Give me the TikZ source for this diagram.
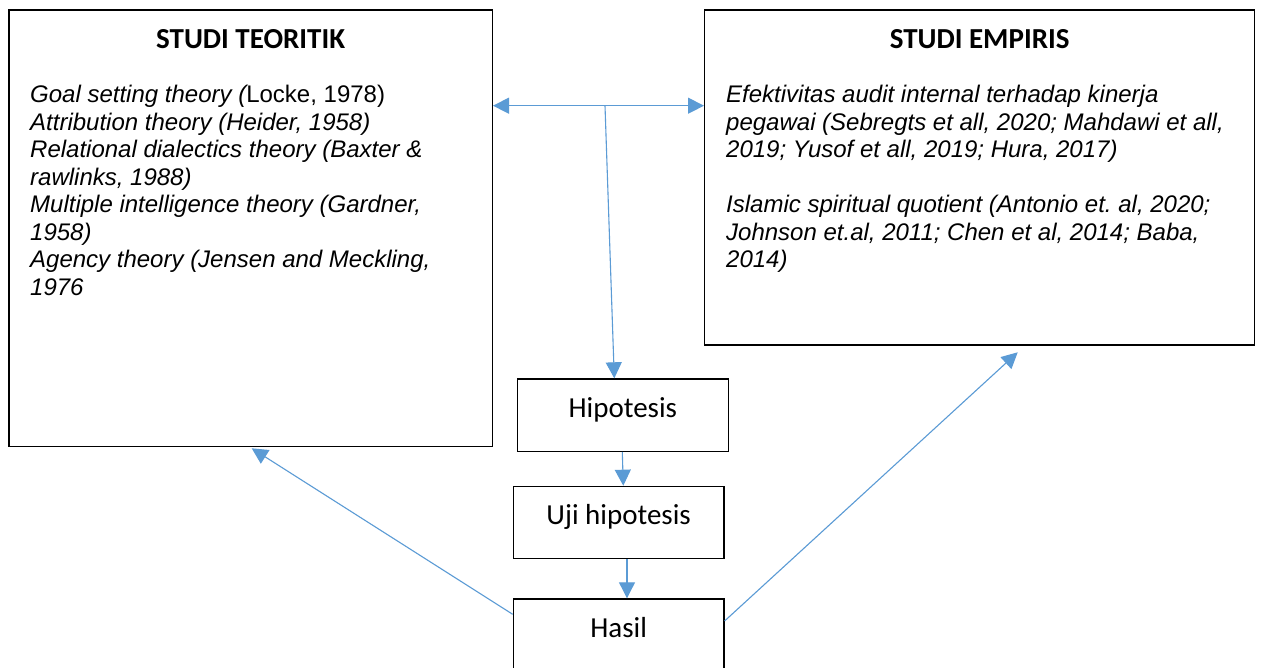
\documentclass[tikz,border=0pt]{standalone}
\usepackage{fontspec}
\setmainfont{Liberation Sans}
\newfontfamily\calib{Carlito}
\usetikzlibrary{arrows.meta,calc}
\definecolor{arrblue}{HTML}{5B9BD5}
\frenchspacing
\begin{document}
\begin{tikzpicture}[x=1pt,y=-1pt,
  bigbox/.style={draw=black, line width=1.3pt, anchor=north west, inner sep=0pt},
  titletext/.style={font=\calib\bfseries\fontsize{29}{34}\selectfont, inner sep=0pt, anchor=base},
  bodytext/.style={font=\fontsize{24}{27.5}\selectfont\itshape, align=left, inner sep=0pt, anchor=north west},
  smallbox/.style={draw=black, line width=1.3pt, anchor=north west, inner xsep=0pt, inner ysep=0pt,
    font=\calib\fontsize{29}{34}\selectfont, text height=38.4pt, text depth=34pt},
  arr/.style={draw=arrblue, line width=1.1pt, -{Triangle[length=16pt,width=16pt]}}
]
\useasboundingbox (0,0) rectangle (1262,668);
\fill[white] (0,0) rectangle (1262,668);

% big boxes
\node[bigbox, minimum width=483.4pt, minimum height=436.7pt] (teori) at (8.3,9.3) {};
\node[bigbox, minimum width=550pt, minimum height=335pt] (empiris) at (704,9.3) {};

\node[titletext] (teoriT) at (teori.north |- 0,49) {STUDI TEORITIK};
\node[titletext] (empirisT) at (empiris.north |- 0,49) {STUDI EMPIRIS};

\node[bodytext] (teoriB) at (30,83.45) {\strut Goal setting theory (\upshape Locke, 1978)\\
Attribution theory (Heider, 1958)\\
Relational dialectics theory (Baxter \&\\
rawlinks, 1988)\\
Multiple intelligence theory (Gardner,\\
1958)\\
Agency theory (Jensen and Meckling,\\
1976};

\node[bodytext] (empirisB) at (726,83.45) {\strut Efektivitas audit internal terhadap kinerja\\
pegawai (Sebregts et all, 2020; Mahdawi et all,\\
2019; Yusof et all, 2019; Hura, 2017)\\[27.5pt]
Islamic spiritual quotient (Antonio et. al, 2020;\\
Johnson et.al, 2011; Chen et al, 2014; Baba,\\
2014)};

% small boxes
\node[smallbox, minimum width=211pt] (hip) at (516.7,378.3) {Hipotesis};
\node[smallbox, minimum width=210.6pt] (uji) at (512.7,485.7) {Uji hipotesis};
\node[smallbox, minimum width=210.6pt] (hasil) at (512.7,598.3) {Hasil};

% connectors
\coordinate (j) at (605,105.7);
\draw[arr] (j) -- (j -| teori.east);
\draw[arr] (j) -- (j -| empiris.west);
\draw[arr] (j) -- (614.3,0 |- hip.north);
\draw[arr] (622.3,0 |- hip.south) -- (623.3,0 |- uji.north);
\draw[arr] (627,0 |- uji.south) -- (627,0 |- hasil.north);
\coordinate (tl) at (251.7,448.3);
\coordinate (tr) at (1017.7,352.3);
\draw[arr] ($(hasil.north west)+(0,16)$) -- (tl);
\draw[arr] ($(hasil.north east)+(0,22.7)$) -- (tr);
\end{tikzpicture}
\end{document}
